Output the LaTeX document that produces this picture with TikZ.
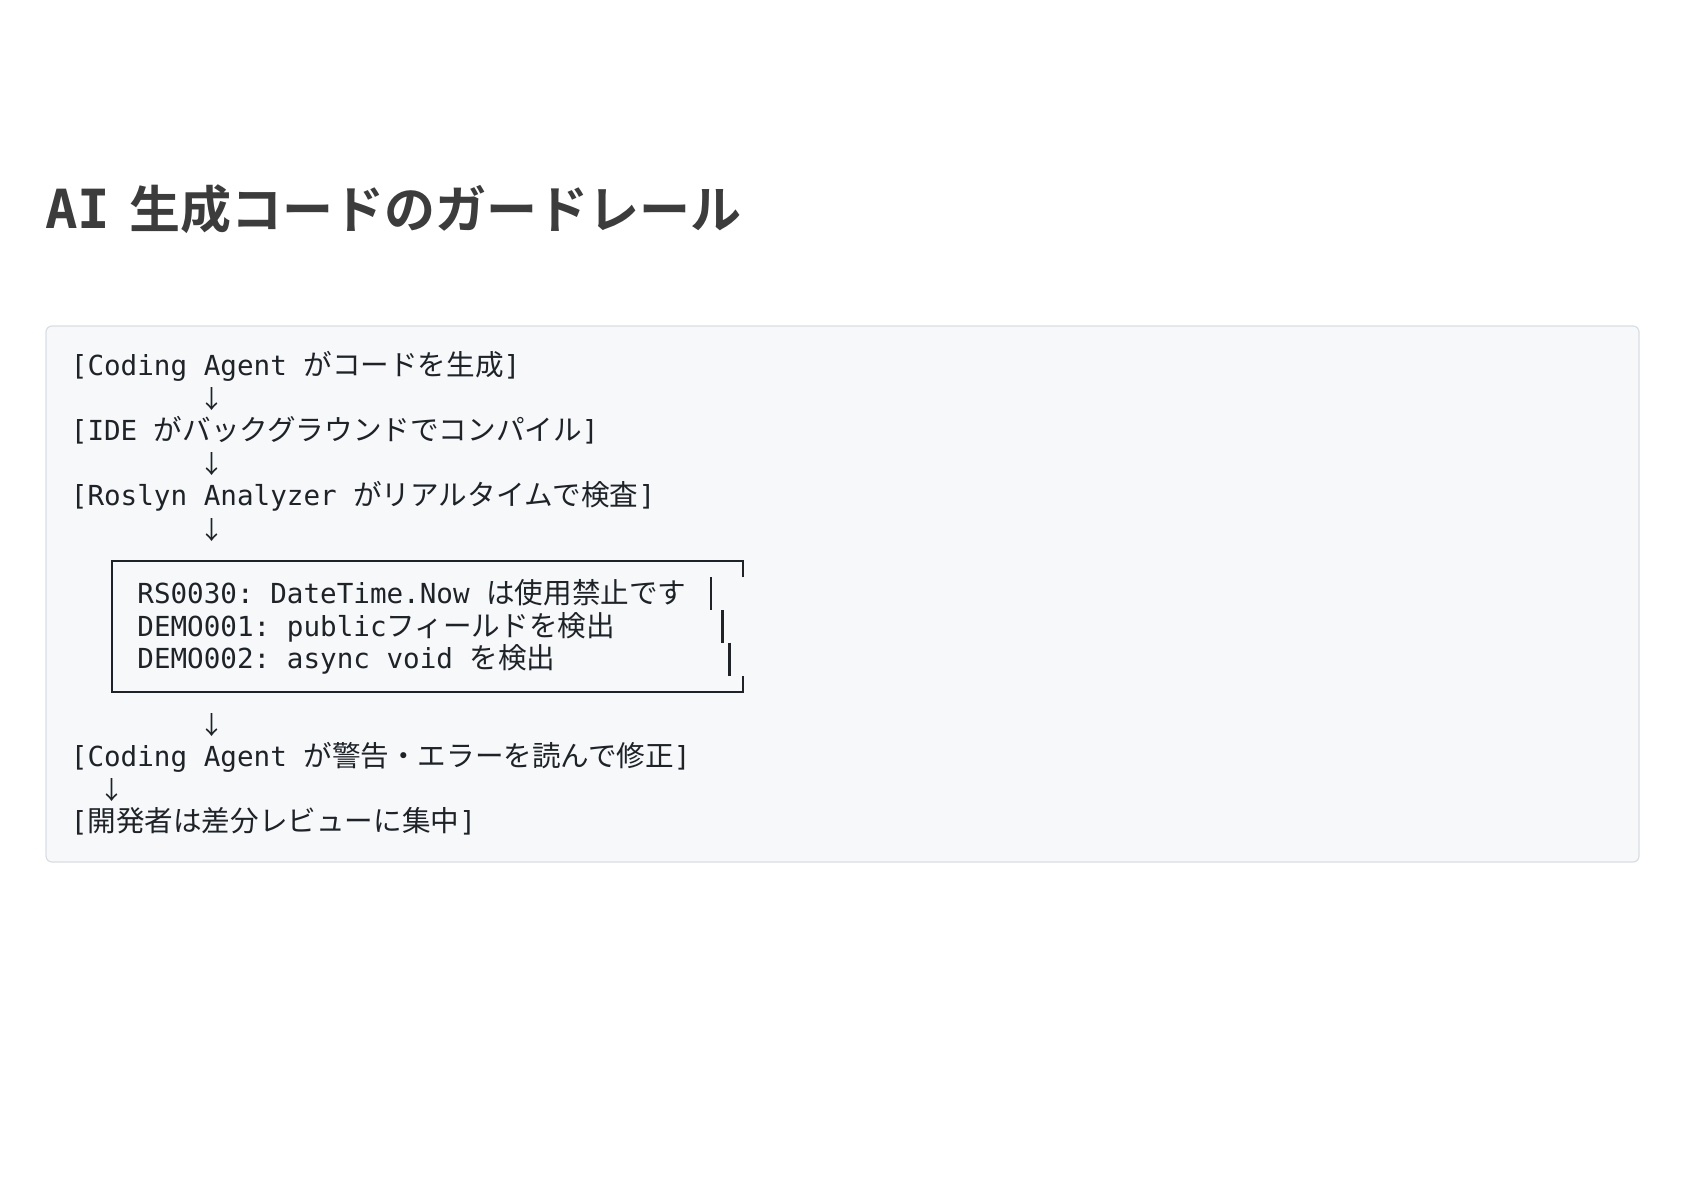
\documentclass[tikz,border=0pt]{standalone}
\usepackage{fontspec}
\setmonofont{DejaVu Sans Mono}
\newfontfamily\cjk{Noto Sans CJK JP}
\newfontfamily\cjkbold{Noto Sans CJK JP Bold}
\definecolor{codefg}{HTML}{1F2328}
\definecolor{codebg}{HTML}{F6F8FA}
\definecolor{codeedge}{HTML}{D8DEE4}
\definecolor{titlefg}{HTML}{3C3C3C}
\newcommand\jp[1]{{\cjk\fontsize{14.3}{16}\selectfont #1}}

\begin{document}
\begin{tikzpicture}[
      x = .5pt, y = -.5pt,
      every node/.style = {
        anchor = base west, inner sep = 0pt, text = codefg,
        font = \ttfamily\fontsize{13.8}{16}\selectfont},
      down/.style = {anchor = base, font = \cjk\fontsize{12.5}{14}\selectfont},
      boxrule/.style = {codefg, line width = 1.3pt}
      ]
    \useasboundingbox (0,0) rectangle (1684,1191);
    \node[text = titlefg] (title) at (45,228)
      {{\ttfamily\bfseries\fontsize{27}{30}\selectfont AI}\hspace{9.5pt}%
       {\cjkbold\fontsize{25.5}{30}\selectfont 生成コードのガードレール}};
    \draw[codeedge, fill = codebg, rounded corners = 3pt, line width = .6pt]
      (46,326) rectangle (1639,862);
    \node (gen) at (70.5,375.5) {[Coding Agent \jp{がコードを生成}]}; % 0
    \node[down] (a1) at (212,408.5) {↓};
    \node (ide) at (70.5,440.7) {[IDE \jp{がバックグラウンドでコンパイル}]}; % 2
    \node[down] (a2) at (212,473.8) {↓};
    \node (roslyn) at (70.5,505.9) {[Roslyn Analyzer \jp{がリアルタイムで検査}]}; % 4
    \node[down] (a3) at (212,539) {↓};
    \node (rs) at (137,603.7) {RS0030: DateTime.Now \jp{は使用禁止です}}; % 7
    \node (demo1) at (137,636.3) {DEMO001: public\jp{フィールドを検出}}; % 8
    \node (demo2) at (137,668.9) {DEMO002: async void \jp{を検出}}; % 9
    \node[down] (a4) at (212,734.6) {↓};
    \node (fix) at (70.5,766.7) {[Coding Agent \jp{が警告・エラーを読んで修正}]}; % 12
    \node[down] (a5) at (112,799.8) {↓};
    \node (dev) at (70.5,831.9) {[\jp{開発者は差分レビューに集中}]}; % 14
    % box round the warnings
    \draw[boxrule] (743,577.3) -- (743,561) -- (112,561)
      -- (112,692) -- (743,692) -- (743,675.7);
    \draw[boxrule] (711,577.3) -- (711,610);
    \draw[boxrule] (722.5,610) -- (722.5,642.6);
    \draw[boxrule] (729.5,642.6) -- (729.5,675.7);
  \end{tikzpicture}
\end{document}
